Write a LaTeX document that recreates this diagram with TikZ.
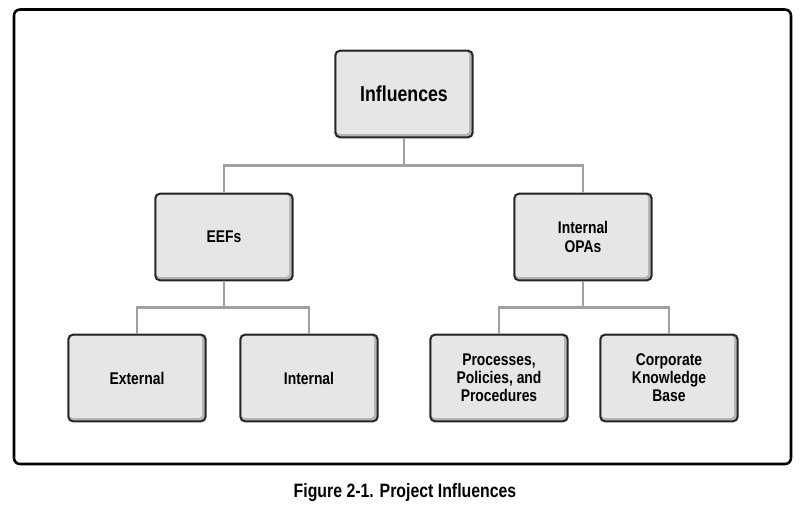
\documentclass[tikz,border=0pt]{standalone}
\usepackage{fontspec}
\setmainfont{Liberation Sans}[FakeStretch=0.82]
\usepackage{tikz}

\definecolor{boxfill}{HTML}{E6E6E6}
\definecolor{boxedge}{HTML}{B4B4B4}
\definecolor{linkgray}{HTML}{A0A0A0}

\tikzset{
  infbox/.style={draw=black!85, line width=1.5pt, fill=boxedge, rounded corners=3.5pt,
    minimum width=103pt, minimum height=65pt, align=center, font=\bfseries\fontsize{12.7}{13.6}\selectfont,
    path picture={\fill[boxfill, rounded corners=2.5pt] ([shift={(0.8pt,-0.8pt)}]path picture bounding box.north west)
      rectangle ([shift={(-2.6pt,2.6pt)}]path picture bounding box.south east);}},
  link/.style={draw=linkgray, line width=2.2pt}
}

\begin{document}
\begin{tikzpicture}[x=0.75pt,y=-0.75pt]
\useasboundingbox (0,0) rectangle (811,518);
\draw [line width=1.9pt, rounded corners=4.5pt] (14,9.5) rectangle (791,464);

\node [infbox, font=\bfseries\fontsize{16.2}{18}\selectfont] (infl) at (404,94) {Influences};
\node [infbox] (eefs) at (224,237) {EEFs};
\node [infbox] (opas) at (583,237) {Internal\\OPAs};
\node [infbox] (ext) at (137,378) {External};
\node [infbox] (int) at (309,378) {Internal};
\node [infbox] (proc) at (499,378) {Processes,\\Policies, and\\Procedures};
\node [infbox] (corp) at (669,378) {Corporate\\Knowledge\\Base};

\draw [link] (infl.south) -- ++(0,27.5) coordinate (top) -| (eefs.north);
\draw [link] (top) -| (opas.north);
\draw [link] (eefs.south) -- ++(0,26.5) coordinate (left) -| (ext.north);
\draw [link] (left) -| (int.north);
\draw [link] (opas.south) -- ++(0,26.5) coordinate (right) -| (proc.north);
\draw [link] (right) -| (corp.north);

\node [font=\bfseries\fontsize{14.5}{16}\selectfont] (cap) at (405,493) {Figure 2-1. Project Influences};
\end{tikzpicture}
\end{document}
